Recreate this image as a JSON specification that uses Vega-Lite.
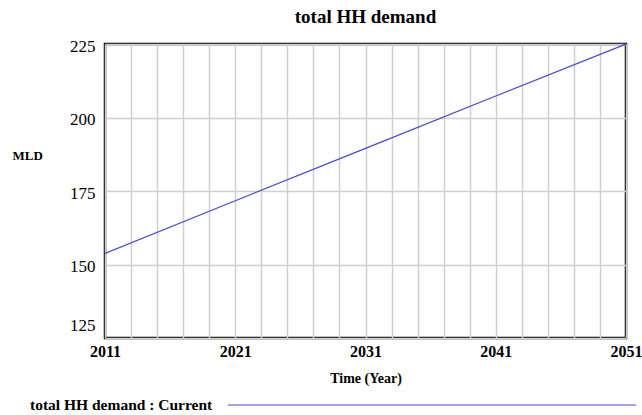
{
  "$schema": "https://vega.github.io/schema/vega-lite/v6.json",
  "width": 521,
  "height": 294,
  "autosize": {"type": "none"},
  "padding": {"left": 105, "top": 44, "right": 16, "bottom": 77},
  "background": "white",
  "title": {
    "text": "total HH demand",
    "font": "Liberation Serif, Times New Roman, serif",
    "fontSize": 19,
    "fontWeight": "bold",
    "color": "black",
    "anchor": "middle",
    "offset": 10
  },
  "config": {
    "view": {"stroke": "black", "strokeWidth": 2.5},
    "font": "Liberation Serif, Times New Roman, serif"
  },
  "data": {
    "values": [
      {"year": 2011, "value": 153.8, "series": "total HH demand : Current"},
      {"year": 2021, "value": 171.7, "series": "total HH demand : Current"},
      {"year": 2031, "value": 189.5, "series": "total HH demand : Current"},
      {"year": 2041, "value": 207.3, "series": "total HH demand : Current"},
      {"year": 2051, "value": 225.0, "series": "total HH demand : Current"}
    ]
  },
  "mark": {"type": "line", "strokeWidth": 1.2, "clip": true},
  "encoding": {
    "x": {
      "field": "year",
      "type": "quantitative",
      "scale": {"domain": [2011, 2051], "nice": false, "zero": false},
      "axis": {
        "title": "Time (Year)",
        "titleFont": "Liberation Serif, Times New Roman, serif",
        "titleFontSize": 14,
        "titleFontWeight": "bold",
        "titleColor": "black",
        "titlePadding": 12,
        "values": [2011, 2013, 2015, 2017, 2019, 2021, 2023, 2025, 2027, 2029, 2031, 2033, 2035, 2037, 2039, 2041, 2043, 2045, 2047, 2049, 2051],
        "labelExpr": "(datum.value - 2011) % 10 == 0 ? datum.value : ''",
        "format": "d",
        "labelFont": "Liberation Serif, Times New Roman, serif",
        "labelFontSize": 16,
        "labelFontWeight": "bold",
        "labelColor": "black",
        "labelPadding": 5,
        "labelOverlap": false,
        "labelFlush": false,
        "ticks": false,
        "domain": false,
        "grid": true,
        "gridColor": "#d0d0d0",
        "gridWidth": 1.5
      }
    },
    "y": {
      "field": "value",
      "type": "quantitative",
      "scale": {"domain": [125, 225], "nice": false, "zero": false},
      "axis": {
        "title": "MLD",
        "titleAngle": 0,
        "titleFont": "Liberation Serif, Times New Roman, serif",
        "titleFontSize": 13,
        "titleFontWeight": "bold",
        "titleColor": "black",
        "titleAlign": "left",
        "titleBaseline": "middle",
        "titleX": -93,
        "titleY": 111,
        "values": [125, 150, 175, 200, 225],
        "labelFont": "Liberation Serif, Times New Roman, serif",
        "labelFontSize": 17,
        "labelColor": "black",
        "labelPadding": 10,
        "labelFlush": false,
        "labelOffset": {"expr": "datum.value == 125 ? -13 : 2"},
        "ticks": false,
        "domain": false,
        "grid": true,
        "gridColor": "#d0d0d0",
        "gridWidth": 1.5
      }
    },
    "color": {
      "field": "series",
      "type": "nominal",
      "scale": {"domain": ["total HH demand : Current"], "range": ["#4646dc"]},
      "legend": {
        "orient": "none",
        "legendX": -75,
        "legendY": 355,
        "title": "total HH demand : Current",
        "titleOrient": "left",
        "titleFont": "Liberation Serif, Times New Roman, serif",
        "titleFontSize": 15.5,
        "titleFontWeight": "bold",
        "titleColor": "black",
        "titlePadding": 14,
        "titleLimit": 400,
        "labelExpr": "''",
        "symbolType": "M-1,0H80.6",
        "symbolSize": 100,
        "symbolStrokeWidth": 1.2,
        "symbolStrokeColor": "#4646dc"
      }
    }
  }
}
